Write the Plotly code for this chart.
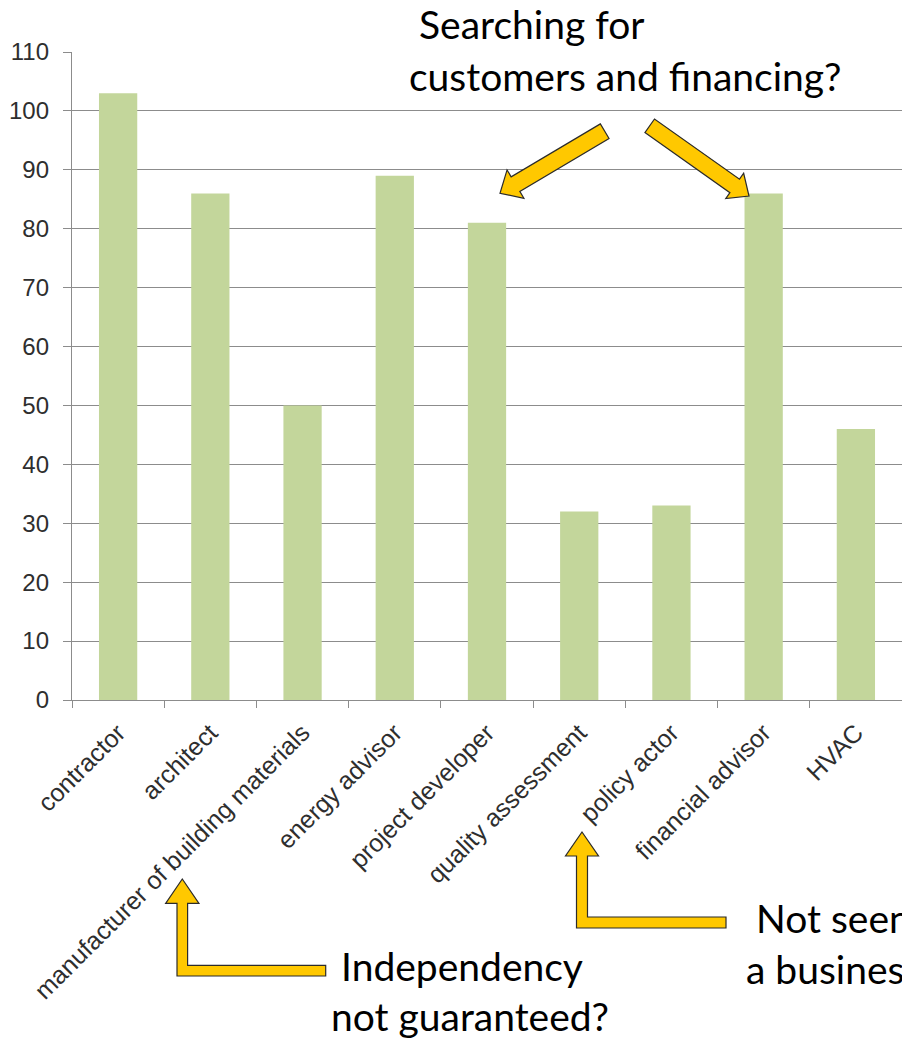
import math
import plotly.graph_objects as go

# ---- data ----
categories = ["contractor", "architect", "manufacturer of building materials",
              "energy advisor", "project developer", "quality assessment",
              "policy actor", "financial advisor", "HVAC"]
values = [103, 86, 50, 89, 81, 32, 33, 86, 46]
y_ticks = list(range(0, 111, 10))

# ---- layout geometry (pixels) ----
W, H = 902, 1040
PL, PT, PW, PH = 72, 52, 830, 648


def px(x):
    return (x - PL) / PW


def py(y):
    return (PT + PH - y) / PH


def path_from(points):
    s = "M " + " L ".join(f"{px(x):.5f},{py(y):.5f}" for x, y in points) + " Z"
    return s


def straight_arrow(tail, tip, shaft_w, head_w, head_len):
    dx, dy = tip[0] - tail[0], tip[1] - tail[1]
    L = math.hypot(dx, dy)
    ux, uy = dx / L, dy / L
    nx, ny = -uy, ux
    bx, by = tip[0] - ux * head_len, tip[1] - uy * head_len
    s, h = shaft_w / 2, head_w / 2
    pts = [
        (tail[0] + nx * s, tail[1] + ny * s),
        (bx + nx * s, by + ny * s),
        (bx + nx * h, by + ny * h),
        tip,
        (bx - nx * h, by - ny * h),
        (bx - nx * s, by - ny * s),
        (tail[0] - nx * s, tail[1] - ny * s),
    ]
    return path_from(pts)


def bent_arrow(tip, head_w, head_len, shaft_w, bottom, right_end):
    tx, ty = tip
    base = ty + head_len
    s = shaft_w / 2
    h = head_w / 2
    pts = [
        (tx, ty),
        (tx + h, base),
        (tx + s, base),
        (tx + s, bottom - shaft_w),
        (right_end, bottom - shaft_w),
        (right_end, bottom),
        (tx - s, bottom),
        (tx - s, base),
        (tx - h, base),
    ]
    return path_from(pts)


ARROW_FILL = "#ffc800"
ARROW_LINE = "#2b2b2b"

shapes = []
for p in [
    straight_arrow((604.7, 131.2), (500, 193.3), 17, 33, 18),
    straight_arrow((649.7, 125.8), (749, 196), 16.6, 31, 17.5),
    bent_arrow((182.3, 879), 33.3, 24.3, 10.6, 976, 325.7),
    bent_arrow((582, 832), 33, 24, 11, 928, 726),
]:
    shapes.append(dict(type="path", path=p, xref="paper", yref="paper",
                       fillcolor=ARROW_FILL, line=dict(color=ARROW_LINE, width=1.2),
                       layer="above"))

TXT_FONT = dict(family="Lato, Carlito, Calibri, sans-serif", size=39, color="#000000")
notes = [
    ("Searching for", 417, 24),
    ("customers and financing?", 407, 76),
    ("Independency", 339, 966),
    ("not guaranteed?", 329, 1016),
    ("Not seen", 754, 918),
    ("a business", 744, 969),
]
annotations = []
for text, x, y in notes:
    annotations.append(dict(text=text, x=px(x), y=py(y), xref="paper", yref="paper",
                            xanchor="left", yanchor="middle", showarrow=False,
                            font=TXT_FONT))

fig = go.Figure()
fig.add_trace(go.Bar(x=categories, y=values, marker=dict(color="#c3d69b", line=dict(width=0)),
                     showlegend=False))

GRID = "#8c8c8c"
YTICKFONT = dict(family="Arial, Liberation Sans, sans-serif", size=24, color="#2e2e2e")
XTICKFONT = dict(family="Arial, Liberation Sans, sans-serif", size=25, color="#2e2e2e")

fig.update_layout(
    width=W, height=H,
    margin=dict(l=PL, r=W - PL - PW, t=PT, b=H - PT - PH, pad=0),
    plot_bgcolor="white", paper_bgcolor="white",
    bargap=0.585,
    shapes=shapes,
    annotations=annotations,
    xaxis=dict(
        range=[-0.5, len(categories) - 0.5],
        tickangle=-45,
        ticks="outside", ticklen=7, tickcolor=GRID, tickwidth=1,
        tickson="boundaries",
        showline=True, linecolor=GRID, linewidth=1.3,
        showgrid=False,
        tickfont=XTICKFONT,
        ticklabelstandoff=7,
    ),
    yaxis=dict(
        range=[0, 110],
        tickvals=y_ticks,
        ticks="outside", ticklen=8, tickcolor=GRID, tickwidth=1,
        showline=True, linecolor=GRID, linewidth=1.3,
        showgrid=True, gridcolor=GRID, gridwidth=1.2,
        zeroline=False,
        tickfont=YTICKFONT,
        ticklabelstandoff=9,
    ),
)

fig.write_html("out.html")
